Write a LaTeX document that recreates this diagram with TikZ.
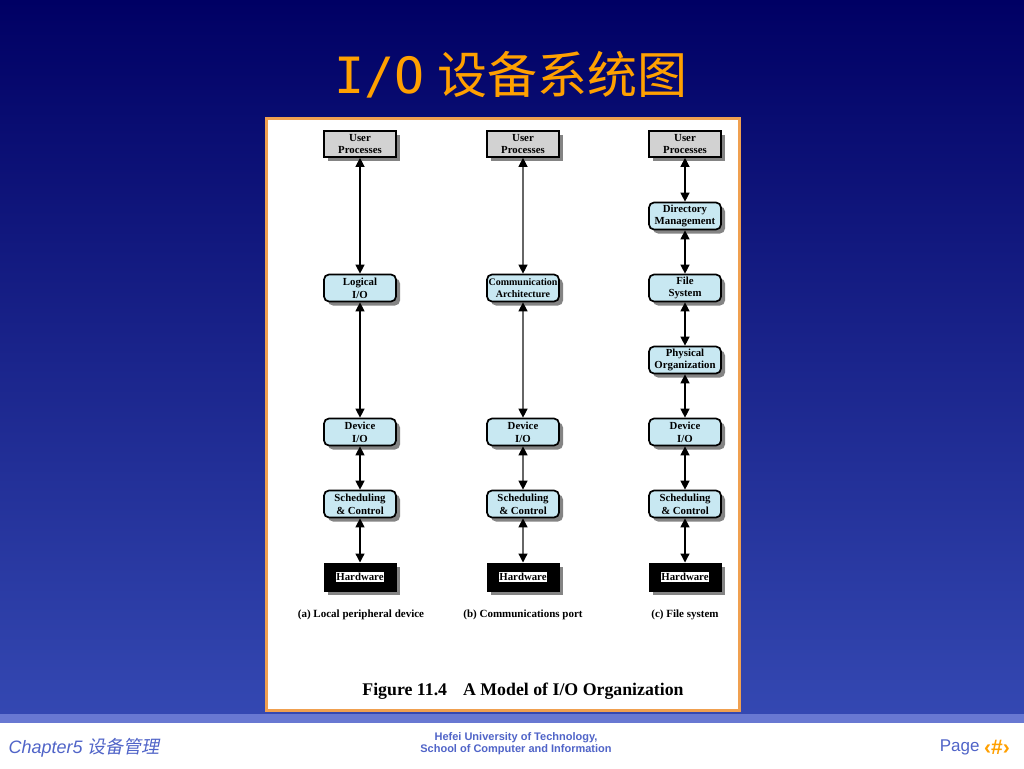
\documentclass[tikz,border=0pt]{standalone}
\usepackage{fontspec}
\setmainfont{Liberation Serif}
\newfontfamily\cjk{Noto Sans CJK SC}
\newfontfamily\cjkit{Noto Sans CJK SC}[FakeSlant=0.2]
\newfontfamily\monof{DejaVu Sans Mono}
\newfontfamily\sansf{Liberation Sans}
\usetikzlibrary{arrows.meta,shadows}
\definecolor{bgtop}{RGB}{0,0,100}
\definecolor{bgbot}{RGB}{52,72,178}
\definecolor{bandc}{RGB}{104,120,210}
\definecolor{titlec}{RGB}{255,160,0}
\definecolor{framec}{RGB}{240,160,80}
\definecolor{boxblue}{RGB}{200,232,242}
\definecolor{boxgray}{RGB}{210,210,210}
\definecolor{footc}{RGB}{80,100,200}
\newcommand\hwtext[1]{{\setlength\fboxsep{0.8pt}\colorbox{white}{#1}}}
\tikzset{
  shad/.style={drop shadow={shadow xshift=4pt, shadow yshift=-4pt, fill=black!60, opacity=0.8}},
  bluebox/.style={draw=black, line width=1.7, rounded corners=5, fill=boxblue,
    minimum width=72, minimum height=27, inner sep=0, align=center,
    font=\bfseries\fontsize{10.8}{12.8}\selectfont, shad},
  graybox/.style={draw=black, line width=1.7, fill=boxgray,
    minimum width=72, minimum height=26, inner sep=0, align=center,
    font=\bfseries\fontsize{10.8}{12.8}\selectfont, shad},
  hwbox/.style={draw=black, fill=black, line width=1,
    minimum width=72, minimum height=28, inner sep=0,
    font=\bfseries\fontsize{10.8}{12.8}\selectfont, shad},
  link/.style={line width=1.3, {Triangle[length=9,width=9,color=black]}-{Triangle[length=9,width=9,color=black]}},
  glink/.style={link, draw=black!60},
  sub/.style={font=\bfseries\fontsize{11}{13}\selectfont},
}
\begin{document}
\begin{tikzpicture}[x=1pt,y=-1pt]
\useasboundingbox (0,0) rectangle (1024,768);
% background
\fill[white] (0,0) rectangle (1024,768);
\shade[top color=bgtop, bottom color=bgbot] (0,0) rectangle (1024,714);
\fill[bandc] (0,714) rectangle (1024,723);
% title
\node[text=titlec, font=\fontsize{50}{58}\selectfont] (title) at (511,75)
  {{\monof I/O} {\cjk 设备系统图}};
% panel
\draw[draw=framec, line width=3, fill=white] (266,118) rectangle (739,710);
% column a
\node[graybox] (ua) at (360,144) {User\\Processes};
\node[bluebox] (la) at (360,288) {Logical\\I/O};
\node[bluebox] (da) at (360,432) {Device\\I/O};
\node[bluebox] (sa) at (360,504) {Scheduling\\\& Control};
\node[hwbox] (ha) at (360,577) {\hwtext{Hardware}};
% column b
\node[graybox] (ub) at (523,144) {User\\Processes};
\node[bluebox, font=\bfseries\fontsize{10}{12}\selectfont] (cb) at (523,288) {Communication\\Architecture};
\node[bluebox] (db) at (523,432) {Device\\I/O};
\node[bluebox] (sb) at (523,504) {Scheduling\\\& Control};
\node[hwbox] (hb) at (523,577) {\hwtext{Hardware}};
% column c
\node[graybox] (uc) at (685,144) {User\\Processes};
\node[bluebox] (mc) at (685,216) {Directory\\Management};
\node[bluebox] (fc) at (685,288) {File\\System};
\node[bluebox] (pc) at (685,360) {Physical\\Organization};
\node[bluebox] (dc) at (685,432) {Device\\I/O};
\node[bluebox] (sc) at (685,504) {Scheduling\\\& Control};
\node[hwbox] (hc) at (685,577) {\hwtext{Hardware}};
% links
\draw[link] (ua.south) -- (la.north);
\draw[link] (la.south) -- (da.north);
\draw[link] (da.south) -- (sa.north);
\draw[link] (sa.south) -- (ha.north);
\draw[glink] (ub.south) -- (cb.north);
\draw[glink] (cb.south) -- (db.north);
\draw[glink] (db.south) -- (sb.north);
\draw[glink] (sb.south) -- (hb.north);
\draw[link] (uc.south) -- (mc.north);
\draw[link] (mc.south) -- (fc.north);
\draw[link] (fc.south) -- (pc.north);
\draw[link] (pc.south) -- (dc.north);
\draw[link] (dc.south) -- (sc.north);
\draw[link] (sc.south) -- (hc.north);
% sub captions
\node[sub] (capa) at (361,615) {(a) Local peripheral device};
\node[sub] (capb) at (523,615) {(b) Communications port};
\node[sub] (capc) at (685,615) {(c) File system};
\node[font=\bfseries\fontsize{17.8}{21}\selectfont] (fig) at (523,691)
  {Figure 11.4\hspace{0.9em}A Model of I/O Organization};
% footer
\node[anchor=west, text=footc, font=\fontsize{18}{20}\selectfont] (chap) at (5,748)
  {{\sansf\itshape Chapter5} {\cjkit 设备管理}};
\node[align=center, text=footc, font=\sansf\bfseries\fontsize{11}{12}\selectfont] (uni) at (516,744)
  {Hefei University of Technology,\\School of Computer and Information};
\node[anchor=east, text=footc, font=\sansf\fontsize{17}{20}\selectfont] (page) at (983,747) {Page};
\node[anchor=west, text=titlec, font=\sansf\bfseries\fontsize{21}{22}\selectfont, inner sep=0] (num) at ([xshift=1pt]page.east) {‹\#›};
\end{tikzpicture}
\end{document}
